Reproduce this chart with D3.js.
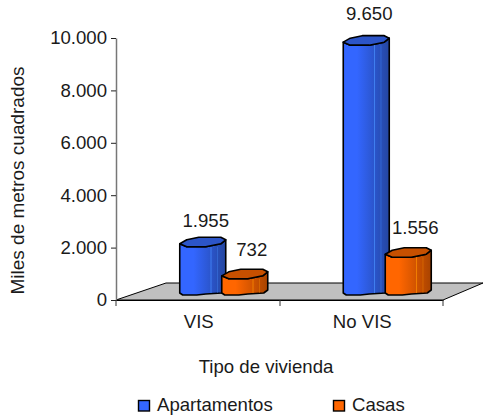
<!DOCTYPE html>
<html>
<head>
<meta charset="utf-8">
<script src="https://cdn.jsdelivr.net/npm/d3@7"></script>
<style>
body { margin: 0; background: #fff; }
text { font-family: "Liberation Sans", Arial, sans-serif; fill: #1a1a1a; }
</style>
</head>
<body>
<svg id="chart" width="483" height="416"></svg>
<script>
var categories = ['VIS', 'No VIS'];
var seriesNames = ['Apartamentos', 'Casas'];
var apartamentos = [1955, 9650];
var casas = [732, 1556];
var yTicks = [0, 2000, 4000, 6000, 8000, 10000];
var seriesColors = ['#3366ff', '#ff6600'];
var seriesDark = ['#24469f', '#a84300'];
var seriesTop = ['#2c55c8', '#c75000'];

var svg = d3.select('#chart');
var fontSize = 18.6;

var locale = d3.formatLocale({decimal: ',', thousands: '.', grouping: [3], currency: ['', '']});
var fmt = locale.format(',d');

var y = d3.scaleLinear().domain([0, 10000]).range([300, 38]);
var x = d3.scaleBand().domain(categories).range([116, 443]);
var barWidth = 46;
var barOffset = {0: 5, 1: 47};
var floorDepth = 5; // bars stand a bit behind the front edge of the floor

var defs = svg.append('defs');
seriesColors.forEach(function(c, i)
{
    var grad = defs.append('linearGradient').attr('id', 'cyl' + i);
    grad.append('stop').attr('offset', '0%').attr('stop-color', c);
    grad.append('stop').attr('offset', '30%').attr('stop-color', c);
    grad.append('stop').attr('offset', '100%').attr('stop-color', seriesDark[i]);
});

// floor
svg.append('path')
    .attr('d', 'M116,300 L166,283 L483,283 L443,300 Z')
    .attr('fill', '#c0c0c0')
    .attr('stroke', '#000')
    .attr('stroke-width', 1);

var drawBar = function(cat, value, s, labelGap)
{
    var left = x(cat) + x.bandwidth() / 2 + barOffset[s] - barWidth / 2;
    var w = barWidth;
    var bottom = y(0) - floorDepth;
    var top = y(value) - floorDepth;
    var g = svg.append('g').attr('class', 'bar');

    var line = d3.line().curve(d3.curveLinear);

    var body = [
        [left, top],
        [left, bottom - 2],
        [left + 3, bottom],
        [left + 17, bottom],
        [left + 26, bottom - 1],
        [left + w - 4, bottom - 2],
        [left + w, bottom - 5],
        [left + w, top - 4],
        [left + w - 5, top],
        [left + 26, top + 3],
        [left + 7, top + 3]
    ];
    g.append('path')
        .attr('d', line(body) + 'Z')
        .attr('fill', 'url(#cyl' + s + ')')
        .attr('stroke', '#000')
        .attr('stroke-width', 1.6)
        .attr('stroke-linejoin', 'round');

    // facet lines on the dark side
    [0.68, 0.82].forEach(function(f, i)
    {
        if(top + 6 < bottom - 6)
        {
            g.append('line')
                .attr('x1', left + w * f).attr('x2', left + w * f)
                .attr('y1', top + 3).attr('y2', bottom - 2)
                .attr('stroke', d3.color(seriesColors[s]).brighter(1).formatHex())
                .attr('stroke-opacity', i == 0 ? 0.7 : 0.35)
                .attr('stroke-width', 1);
        }
    });

    var lid = [
        [left, top],
        [left + 7, top - 4],
        [left + 19, top - 6.5],
        [left + 41, top - 6.5],
        [left + w, top - 4],
        [left + w - 5, top],
        [left + 26, top + 3],
        [left + 7, top + 3]
    ];
    g.append('path')
        .attr('d', line(lid) + 'Z')
        .attr('fill', seriesTop[s])
        .attr('stroke', '#000')
        .attr('stroke-width', 1.6)
        .attr('stroke-linejoin', 'round');

    svg.append('text')
        .attr('x', left + w / 2 + (s == 0 ? 3 : 7))
        .attr('y', top - labelGap)
        .attr('text-anchor', 'middle')
        .attr('font-size', fontSize)
        .text(fmt(value));
};

// label gaps differ a little per bar in the original
var labelGaps = [[17, 22], [20, 20]];

[apartamentos, casas].forEach(function(values, s)
{
    values.forEach(function(v, i)
    {
        drawBar(categories[i], v, s, labelGaps[s][i]);
    });
});

// axes
var yAxis = d3.axisLeft(y).tickValues(yTicks).tickFormat(fmt).tickSize(5).tickSizeOuter(0);
var yG = svg.append('g').attr('transform', 'translate(116,0)').call(yAxis);
yG.selectAll('text').attr('font-size', fontSize).attr('font-family', null).attr('dx', '-1');
yG.selectAll('line').attr('stroke', '#222');
yG.select('path').attr('stroke', '#777').attr('stroke-width', 1.5);

var xAxis = d3.axisBottom(x).tickSize(0).tickSizeOuter(0).tickPadding(15);
var xG = svg.append('g').attr('transform', 'translate(0,300)').call(xAxis);
xG.selectAll('text').attr('font-size', fontSize).attr('font-family', null).attr('dx', '1');
xG.select('path').attr('stroke', '#000');
xG.selectAll('.sep').data([116, 280, 443]).enter().append('line')
    .attr('x1', function(d) { return d; })
    .attr('x2', function(d) { return d; })
    .attr('y1', 0).attr('y2', 6)
    .attr('stroke', '#333');

// axis titles
svg.append('text')
    .attr('transform', 'translate(24,180.5) rotate(-90)')
    .attr('text-anchor', 'middle')
    .attr('font-size', 19)
    .text('Miles de metros cuadrados');

svg.append('text')
    .attr('x', 266).attr('y', 373)
    .attr('text-anchor', 'middle')
    .attr('font-size', fontSize)
    .text('Tipo de vivienda');

// legend
var legendX = [138.5, 333.5];
seriesNames.forEach(function(name, i)
{
    svg.append('rect')
        .attr('x', legendX[i]).attr('y', 400.5)
        .attr('width', 11).attr('height', 10.5)
        .attr('fill', seriesColors[i])
        .attr('stroke', '#000')
        .attr('stroke-width', 1.4);
    svg.append('text')
        .attr('x', legendX[i] + 18.5).attr('y', 411)
        .attr('font-size', fontSize)
        .text(name);
});
</script>
</body>
</html>
